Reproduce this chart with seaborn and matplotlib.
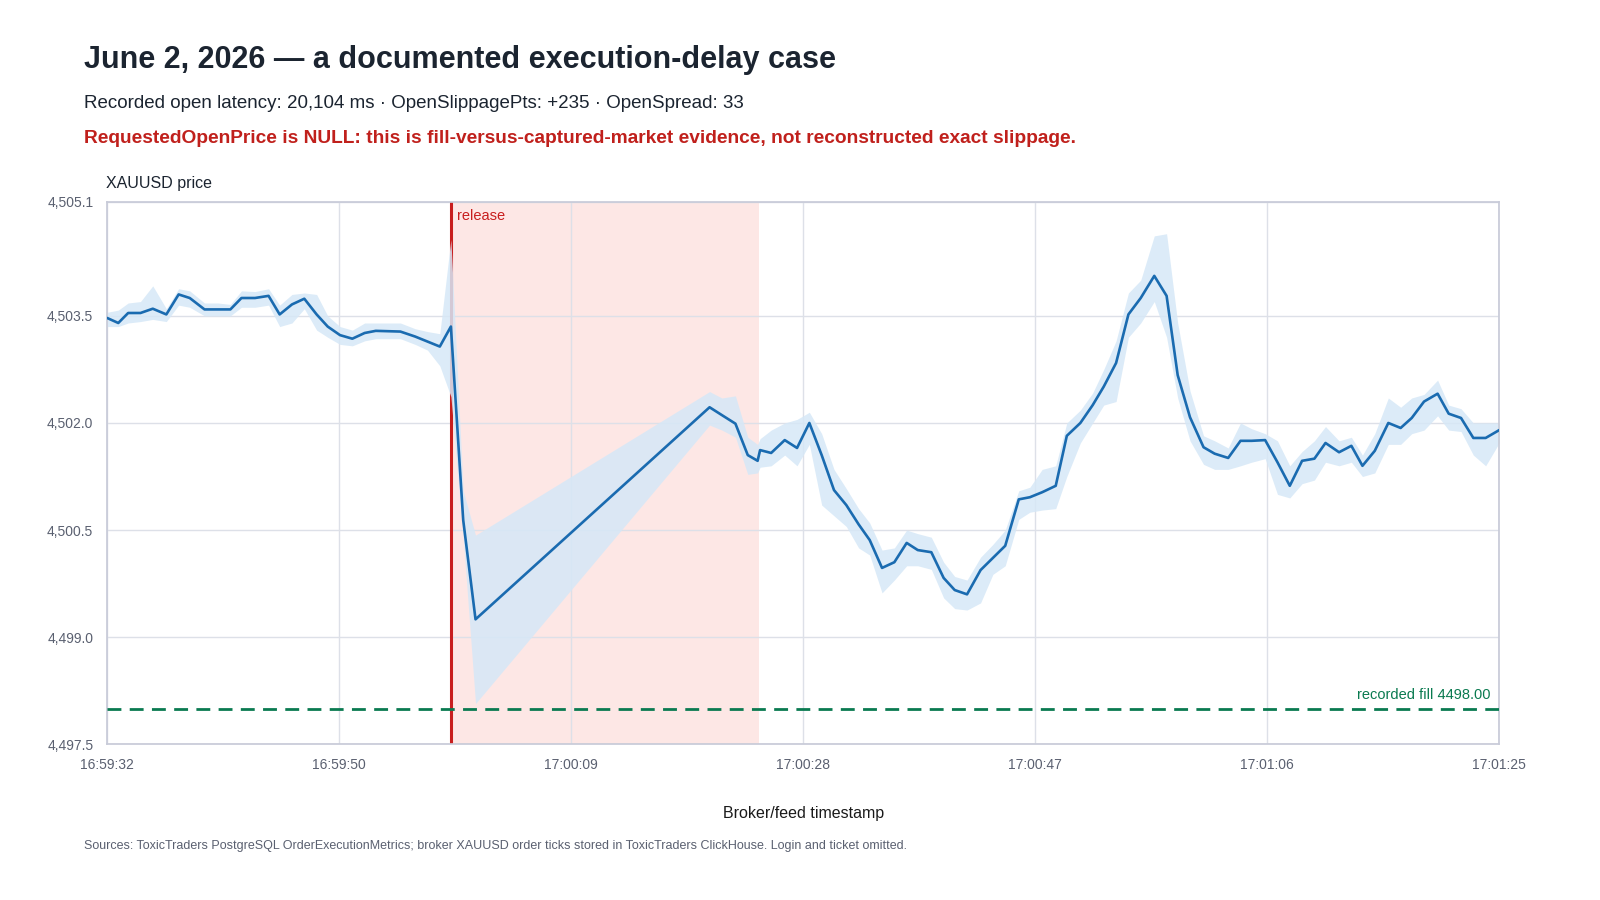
import matplotlib
matplotlib.use("Agg")
import matplotlib.pyplot as plt
import seaborn as sns
import pandas as pd

sec = [0,0.9,1.7,2.7,3.7,4.8,5.8,6.7,7.9,9.0,10.0,10.9,12.0,13.1,14.0,15.0,16.0,17.0,17.9,18.9,19.9,20.9,21.8,23.8,25.0,26.0,27.0,27.9,28.9,29.9,
       48.9,49.9,51.0,52.0,52.8,53.0,53.9,55.0,56.0,57.0,58.0,59.0,60.0,61.0,61.9,62.9,63.9,64.9,65.8,66.9,67.9,68.8,69.8,70.9,71.9,72.9,
       74.0,74.9,75.9,77.0,77.9,79.0,80.0,80.9,81.9,82.9,83.9,85.0,86.0,86.9,87.9,89.0,89.9,91.0,92.0,92.9,94.0,95.0,96.0,97.0,98.0,98.9,
       100.0,101.0,101.9,102.9,104.0,105.0,105.9,106.9,108.0,108.9,109.9,110.9,111.9,113.0]
mid = [4503.47,4503.40,4503.54,4503.54,4503.60,4503.52,4503.80,4503.75,4503.59,4503.59,4503.59,4503.75,4503.75,4503.78,4503.52,4503.66,4503.74,4503.52,4503.35,4503.23,4503.18,4503.26,4503.29,4503.28,4503.21,4503.14,4503.07,4503.35,4500.64,4499.25,
       4502.22,4502.11,4501.99,4501.55,4501.47,4501.62,4501.58,4501.76,4501.65,4502.00,4501.55,4501.06,4500.85,4500.58,4500.36,4499.97,4500.05,4500.32,4500.22,4500.19,4499.83,4499.66,4499.60,4499.94,4500.11,4500.28,
       4500.93,4500.96,4501.03,4501.12,4501.82,4502.00,4502.25,4502.51,4502.84,4503.52,4503.75,4504.06,4503.78,4502.67,4502.08,4501.66,4501.57,4501.51,4501.75,4501.75,4501.76,4501.45,4501.12,4501.47,4501.50,4501.72,
       4501.59,4501.68,4501.40,4501.61,4502.00,4501.93,4502.07,4502.30,4502.41,4502.13,4502.07,4501.79,4501.79,4501.90]
lo = [4503.35,4503.35,4503.40,4503.42,4503.45,4503.42,4503.65,4503.62,4503.50,4503.50,4503.50,4503.62,4503.62,4503.65,4503.35,4503.40,4503.60,4503.30,4503.20,4503.10,4503.08,4503.15,4503.18,4503.18,4503.10,4503.02,4502.80,4502.37,4500.40,4498.07,
       4501.97,4501.90,4501.80,4501.28,4501.30,4501.38,4501.40,4501.55,4501.40,4501.70,4500.85,4500.70,4500.55,4500.25,4500.15,4499.62,4499.80,4500.00,4500.00,4499.95,4499.55,4499.40,4499.38,4499.48,4499.88,4500.00,
       4500.65,4500.75,4500.78,4500.80,4501.25,4501.72,4502.00,4502.25,4502.30,4503.20,4503.40,4503.70,4503.20,4502.35,4501.75,4501.42,4501.35,4501.35,4501.40,4501.45,4501.50,4501.00,4500.95,4501.15,4501.20,4501.45,
       4501.40,4501.45,4501.25,4501.30,4501.70,4501.70,4501.85,4501.90,4502.10,4501.90,4501.88,4501.55,4501.40,4501.72]
hi = [4503.55,4503.58,4503.68,4503.70,4503.92,4503.60,4503.88,4503.85,4503.68,4503.68,4503.66,4503.85,4503.84,4503.88,4503.65,4503.80,4503.82,4503.80,4503.50,4503.35,4503.30,4503.40,4503.40,4503.40,4503.32,4503.28,4503.25,4504.57,4501.05,4500.43,
       4502.44,4502.35,4502.38,4501.80,4501.70,4501.78,4501.90,4502.00,4502.05,4502.15,4501.85,4501.35,4501.08,4500.80,4500.60,4500.22,4500.25,4500.50,4500.45,4500.40,4500.05,4499.85,4499.80,4500.12,4500.30,4500.50,
       4501.05,4501.10,4501.35,4501.40,4502.00,4502.18,4502.42,4502.75,4503.15,4503.82,4504.00,4504.62,4504.65,4503.40,4502.45,4501.82,4501.75,4501.65,4502.00,4501.92,4501.85,4501.75,4501.40,4501.60,4501.75,4501.95,
       4501.75,4501.80,4501.55,4501.85,4502.35,4502.22,4502.35,4502.40,4502.60,4502.25,4502.20,4502.00,4502.00,4502.00]

release_sec = 27.9
window_end_sec = 52.9
fill_price = 4498.00
x_tick_labels = ["16:59:32","16:59:50","17:00:09","17:00:28","17:00:47","17:01:06","17:01:25"]
y_ticks = [4497.5, 4499.0, 4500.5, 4502.0, 4503.5, 4505.1]

df = pd.DataFrame({"sec": sec, "mid": mid, "lo": lo, "hi": hi})

sns.set_theme(style="white")
plt.rcParams['font.family'] = ['Liberation Sans', 'DejaVu Sans']
fig = plt.figure(figsize=(16, 9), dpi=100)
ax = fig.add_axes([0.067, 0.173, 0.870, 0.603])

ax.axvspan(release_sec, window_end_sec, color="#fde7e5", zorder=0, lw=0)
ax.axvline(release_sec, color="#c81e1e", lw=2.2, zorder=1)
ax.fill_between(df["sec"], df["lo"], df["hi"], color="#d6e8f7", alpha=0.85, lw=0, zorder=2)
sns.lineplot(data=df, x="sec", y="mid", ax=ax, color="#1a6bb0", lw=1.9, zorder=3)
ax.axhline(fill_price, color="#0a7a50", lw=2, ls=(0, (5, 3)), zorder=3)

ax.set_xlim(0, 113)
ax.set_ylim(4497.5, 4505.1)
ax.set_xticks([113 * i / 6 for i in range(7)])
ax.set_xticklabels(x_tick_labels)
ax.set_yticks(y_ticks)
ax.set_yticklabels([f"{v:,.1f}" for v in y_ticks])
ax.grid(True, color="#dde0e8", lw=1)
ax.set_axisbelow(True)
for s in ax.spines.values():
    s.set_color("#c8cbd8")
ax.tick_params(colors="#5a6070", labelsize=10, length=0, pad=10)
ax.set_xlabel("Broker/feed timestamp", fontsize=11.5, color="#1a1a1a", labelpad=24)
ax.set_ylabel("")

ax.text(release_sec + 0.5, 4504.9, "release", color="#c81e1e", fontsize=10.5, va="center")
ax.text(112.3, fill_price + 0.09, "recorded fill 4498.00", color="#0a7a50", fontsize=10.5, ha="right", va="bottom")

fig.text(0.0525, 0.933, "June 2, 2026 — a documented execution-delay case", fontsize=22, fontweight="bold", color="#1b2430", va="center")
fig.text(0.0525, 0.885, "Recorded open latency: 20,104 ms · OpenSlippagePts: +235 · OpenSpread: 33", fontsize=13.5, color="#1b2430", va="center")
fig.text(0.0525, 0.846, "RequestedOpenPrice is NULL: this is fill-versus-captured-market evidence, not reconstructed exact slippage.", fontsize=13.8, fontweight="bold", color="#c0201c", va="center")
fig.text(0.066, 0.796, "XAUUSD price", fontsize=11.5, color="#1b2430", va="center")
fig.text(0.0525, 0.06, "Sources: ToxicTraders PostgreSQL OrderExecutionMetrics; broker XAUUSD order ticks stored in ToxicTraders ClickHouse. Login and ticket omitted.", fontsize=9, color="#5a6070", va="center")

fig.savefig("out.png", dpi=100, facecolor="white")
